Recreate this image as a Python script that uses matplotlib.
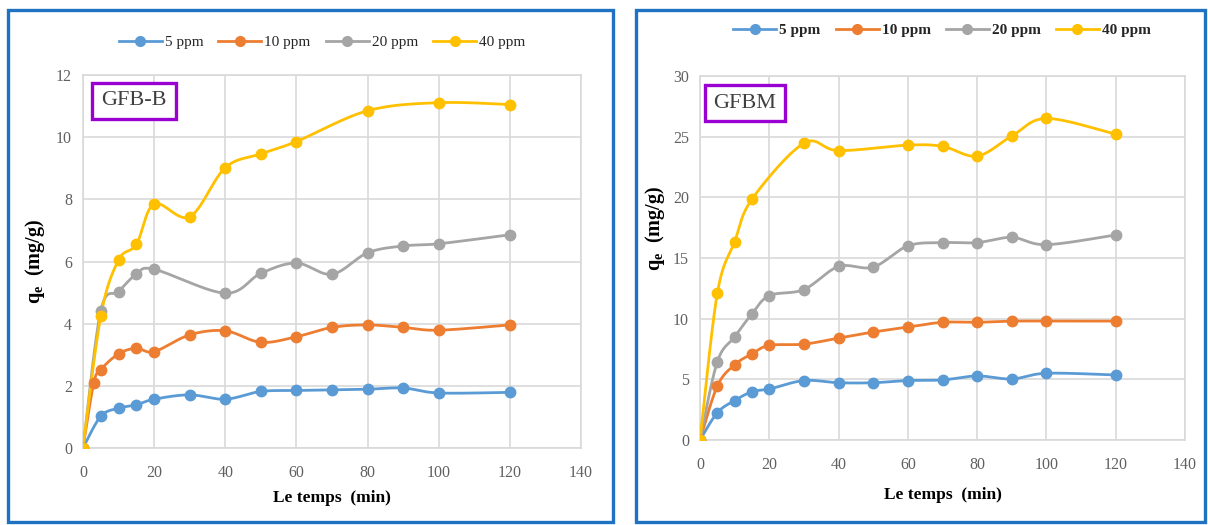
import numpy as np
import matplotlib
matplotlib.use("Agg")
import matplotlib.pyplot as plt
from matplotlib.patches import Rectangle

plt.rcParams['font.family'] = ['Liberation Serif', 'DejaVu Serif']
plt.rcParams['mathtext.fontset'] = 'custom'
plt.rcParams['mathtext.rm'] = 'Liberation Serif'
plt.rcParams['mathtext.bf'] = 'Liberation Serif:bold'
plt.rcParams['mathtext.it'] = 'Liberation Serif:italic'

# ---- GFB-B kinetics ----
gfbb_t_5 = [0, 5, 10, 15, 20, 30, 40, 50, 60, 70, 80, 90, 100, 120]
gfbb_q_5 = [0, 1.02, 1.28, 1.39, 1.57, 1.71, 1.57, 1.82, 1.85, 1.87, 1.89, 1.93, 1.77, 1.79]
gfbb_t_10 = [0, 3, 5, 10, 15, 20, 30, 40, 50, 60, 70, 80, 90, 100, 120]
gfbb_q_10 = [0, 2.08, 2.52, 3.03, 3.21, 3.10, 3.64, 3.77, 3.40, 3.58, 3.88, 3.96, 3.88, 3.79, 3.96]
gfbb_t_20 = [0, 5, 10, 15, 20, 40, 50, 60, 70, 80, 90, 100, 120]
gfbb_q_20 = [0, 4.42, 5.03, 5.59, 5.75, 4.98, 5.62, 5.95, 5.59, 6.28, 6.50, 6.57, 6.86]
gfbb_t_40 = [0, 5, 10, 15, 20, 30, 40, 50, 60, 80, 100, 120]
gfbb_q_40 = [0, 4.25, 6.05, 6.55, 7.85, 7.44, 9.02, 9.46, 9.86, 10.85, 11.11, 11.05]

# ---- GFBM kinetics ----
gfbm_t_5 = [0, 5, 10, 15, 20, 30, 40, 50, 60, 70, 80, 90, 100, 120]
gfbm_q_5 = [0, 2.25, 3.25, 3.98, 4.2, 4.9, 4.72, 4.72, 4.9, 4.95, 5.28, 5.03, 5.5, 5.36]
gfbm_t_10 = [0, 5, 10, 15, 20, 30, 40, 50, 60, 70, 80, 90, 100, 120]
gfbm_q_10 = [0, 4.45, 6.2, 7.1, 7.8, 7.9, 8.4, 8.9, 9.3, 9.7, 9.7, 9.8, 9.8, 9.8]
gfbm_t_20 = [0, 5, 10, 15, 20, 30, 40, 50, 60, 70, 80, 90, 100, 120]
gfbm_q_20 = [0, 6.45, 8.5, 10.4, 11.9, 12.4, 14.3, 14.25, 16.0, 16.27, 16.27, 16.7, 16.1, 16.9]
gfbm_t_40 = [0, 5, 10, 15, 30, 40, 60, 70, 80, 90, 100, 120]
gfbm_q_40 = [0, 12.1, 16.35, 19.85, 24.46, 23.85, 24.3, 24.2, 23.4, 25.05, 26.5, 25.2]

series_labels = ['5 ppm', '10 ppm', '20 ppm', '40 ppm']
series_colors = ['#5B9BD5', '#ED7D31', '#A5A5A5', '#FFC000']
x_ticks = [0, 20, 40, 60, 80, 100, 120, 140]


def smooth_curve(x, y, n=30):
    """Cubic Bezier smoothing through every point (spreadsheet-style)."""
    x = np.asarray(x, float)
    y = np.asarray(y, float)
    px = np.concatenate([[x[0]], x, [x[-1]]])
    py = np.concatenate([[y[0]], y, [y[-1]]])
    xs, ys = [], []
    s = np.linspace(0, 1, n)
    for i in range(1, len(px) - 2):
        p0x, p0y = px[i], py[i]
        p3x, p3y = px[i + 1], py[i + 1]
        c1x = p0x + (px[i + 1] - px[i - 1]) / 6
        c1y = p0y + (py[i + 1] - py[i - 1]) / 6
        c2x = p3x - (px[i + 2] - px[i]) / 6
        c2y = p3y - (py[i + 2] - py[i]) / 6
        b0 = (1 - s) ** 3
        b1 = 3 * (1 - s) ** 2 * s
        b2 = 3 * (1 - s) * s ** 2
        b3 = s ** 3
        xs.append(b0 * p0x + b1 * c1x + b2 * c2x + b3 * p3x)
        ys.append(b0 * p0y + b1 * c1y + b2 * c2y + b3 * p3y)
    return np.concatenate(xs), np.concatenate(ys)


fig = plt.figure(figsize=(12.08, 5.25), dpi=100)
W, H = 1208, 525


def px_rect(x0, y0, x1, y1):
    return [x0 / W, 1 - y1 / H, (x1 - x0) / W, (y1 - y0) / H]


# panel frames
for (x0, y0, x1, y1) in [(8, 10, 613, 522), (636, 10, 1205, 522)]:
    fig.add_artist(Rectangle((x0 / W, 1 - y1 / H), (x1 - x0) / W, (y1 - y0) / H,
                             transform=fig.transFigure, fill=False,
                             edgecolor='#1F72C2', linewidth=2.4))

panels = [
    dict(rect=px_rect(83, 75, 581, 448), ymax=12, ystep=2, tag='GFB-B',
         data=[(gfbb_t_5, gfbb_q_5), (gfbb_t_10, gfbb_q_10),
               (gfbb_t_20, gfbb_q_20), (gfbb_t_40, gfbb_q_40)],
         legend_xy=(322, 42), legend_bold=False, tag_xy=(134, 101),
         xlabel_pad=7, ylabel_pos=(-0.072, 0.50)),
    dict(rect=px_rect(700, 76, 1185, 440), ymax=30, ystep=5, tag='GFBM',
         data=[(gfbm_t_5, gfbm_q_5), (gfbm_t_10, gfbm_q_10),
               (gfbm_t_20, gfbm_q_20), (gfbm_t_40, gfbm_q_40)],
         legend_xy=(942, 30), legend_bold=True, tag_xy=(745, 103),
         xlabel_pad=10, ylabel_pos=(-0.068, 0.58)),
]

for p in panels:
    ax = fig.add_axes(p['rect'])
    handles = []
    for (t, q), lab, col in zip(p['data'], series_labels, series_colors):
        sx, sy = smooth_curve(t, q)
        ax.plot(sx, sy, color=col, linewidth=2.0, solid_capstyle='round', zorder=3)
        ax.plot(t, q, linestyle='none', marker='o', markersize=7.5, color=col, zorder=4)
        h, = ax.plot([], [], color=col, linewidth=2.0, marker='o', markersize=7, label=lab)
        handles.append(h)

    ax.set_xlim(0, 140)
    ax.set_ylim(0, p['ymax'])
    ax.set_xticks(x_ticks)
    ax.set_yticks(np.arange(0, p['ymax'] + 0.1, p['ystep']))
    ax.grid(True, color='#D9D9D9', linewidth=1.2)
    ax.set_axisbelow(True)
    for sp in ax.spines.values():
        sp.set_color('#D9D9D9')
        sp.set_linewidth(1.2)
    ax.tick_params(length=0, labelsize=11.5, labelcolor='#606060')
    ax.tick_params(axis='x', pad=12)
    ax.tick_params(axis='y', pad=8)

    ax.set_xlabel('Le temps  (min)', fontsize=12.5, fontweight='bold',
                  labelpad=p['xlabel_pad'])
    ax.set_ylabel(r'$\mathbf{q_e}$  (mg/g)', fontsize=14.5, fontweight='bold')
    ax.yaxis.set_label_coords(*p['ylabel_pos'])

    tx, ty = p['tag_xy']
    fig.text(tx / W, 1 - ty / H, p['tag'], fontsize=16, color='#404040',
             ha='center', va='center',
             bbox=dict(boxstyle='square,pad=0.4', facecolor='white',
                       edgecolor='#9B00D3', linewidth=2.4))

    lx, ly = p['legend_xy']
    leg = fig.legend(handles=handles, loc='center', bbox_to_anchor=(lx / W, 1 - ly / H),
                     ncol=4, frameon=False, fontsize=11, handlelength=2.8,
                     columnspacing=1.0, handletextpad=0.2)
    for txt in leg.get_texts():
        txt.set_color('#262626')
        if p['legend_bold']:
            txt.set_fontweight('bold')

fig.savefig('out.png', dpi=100)
